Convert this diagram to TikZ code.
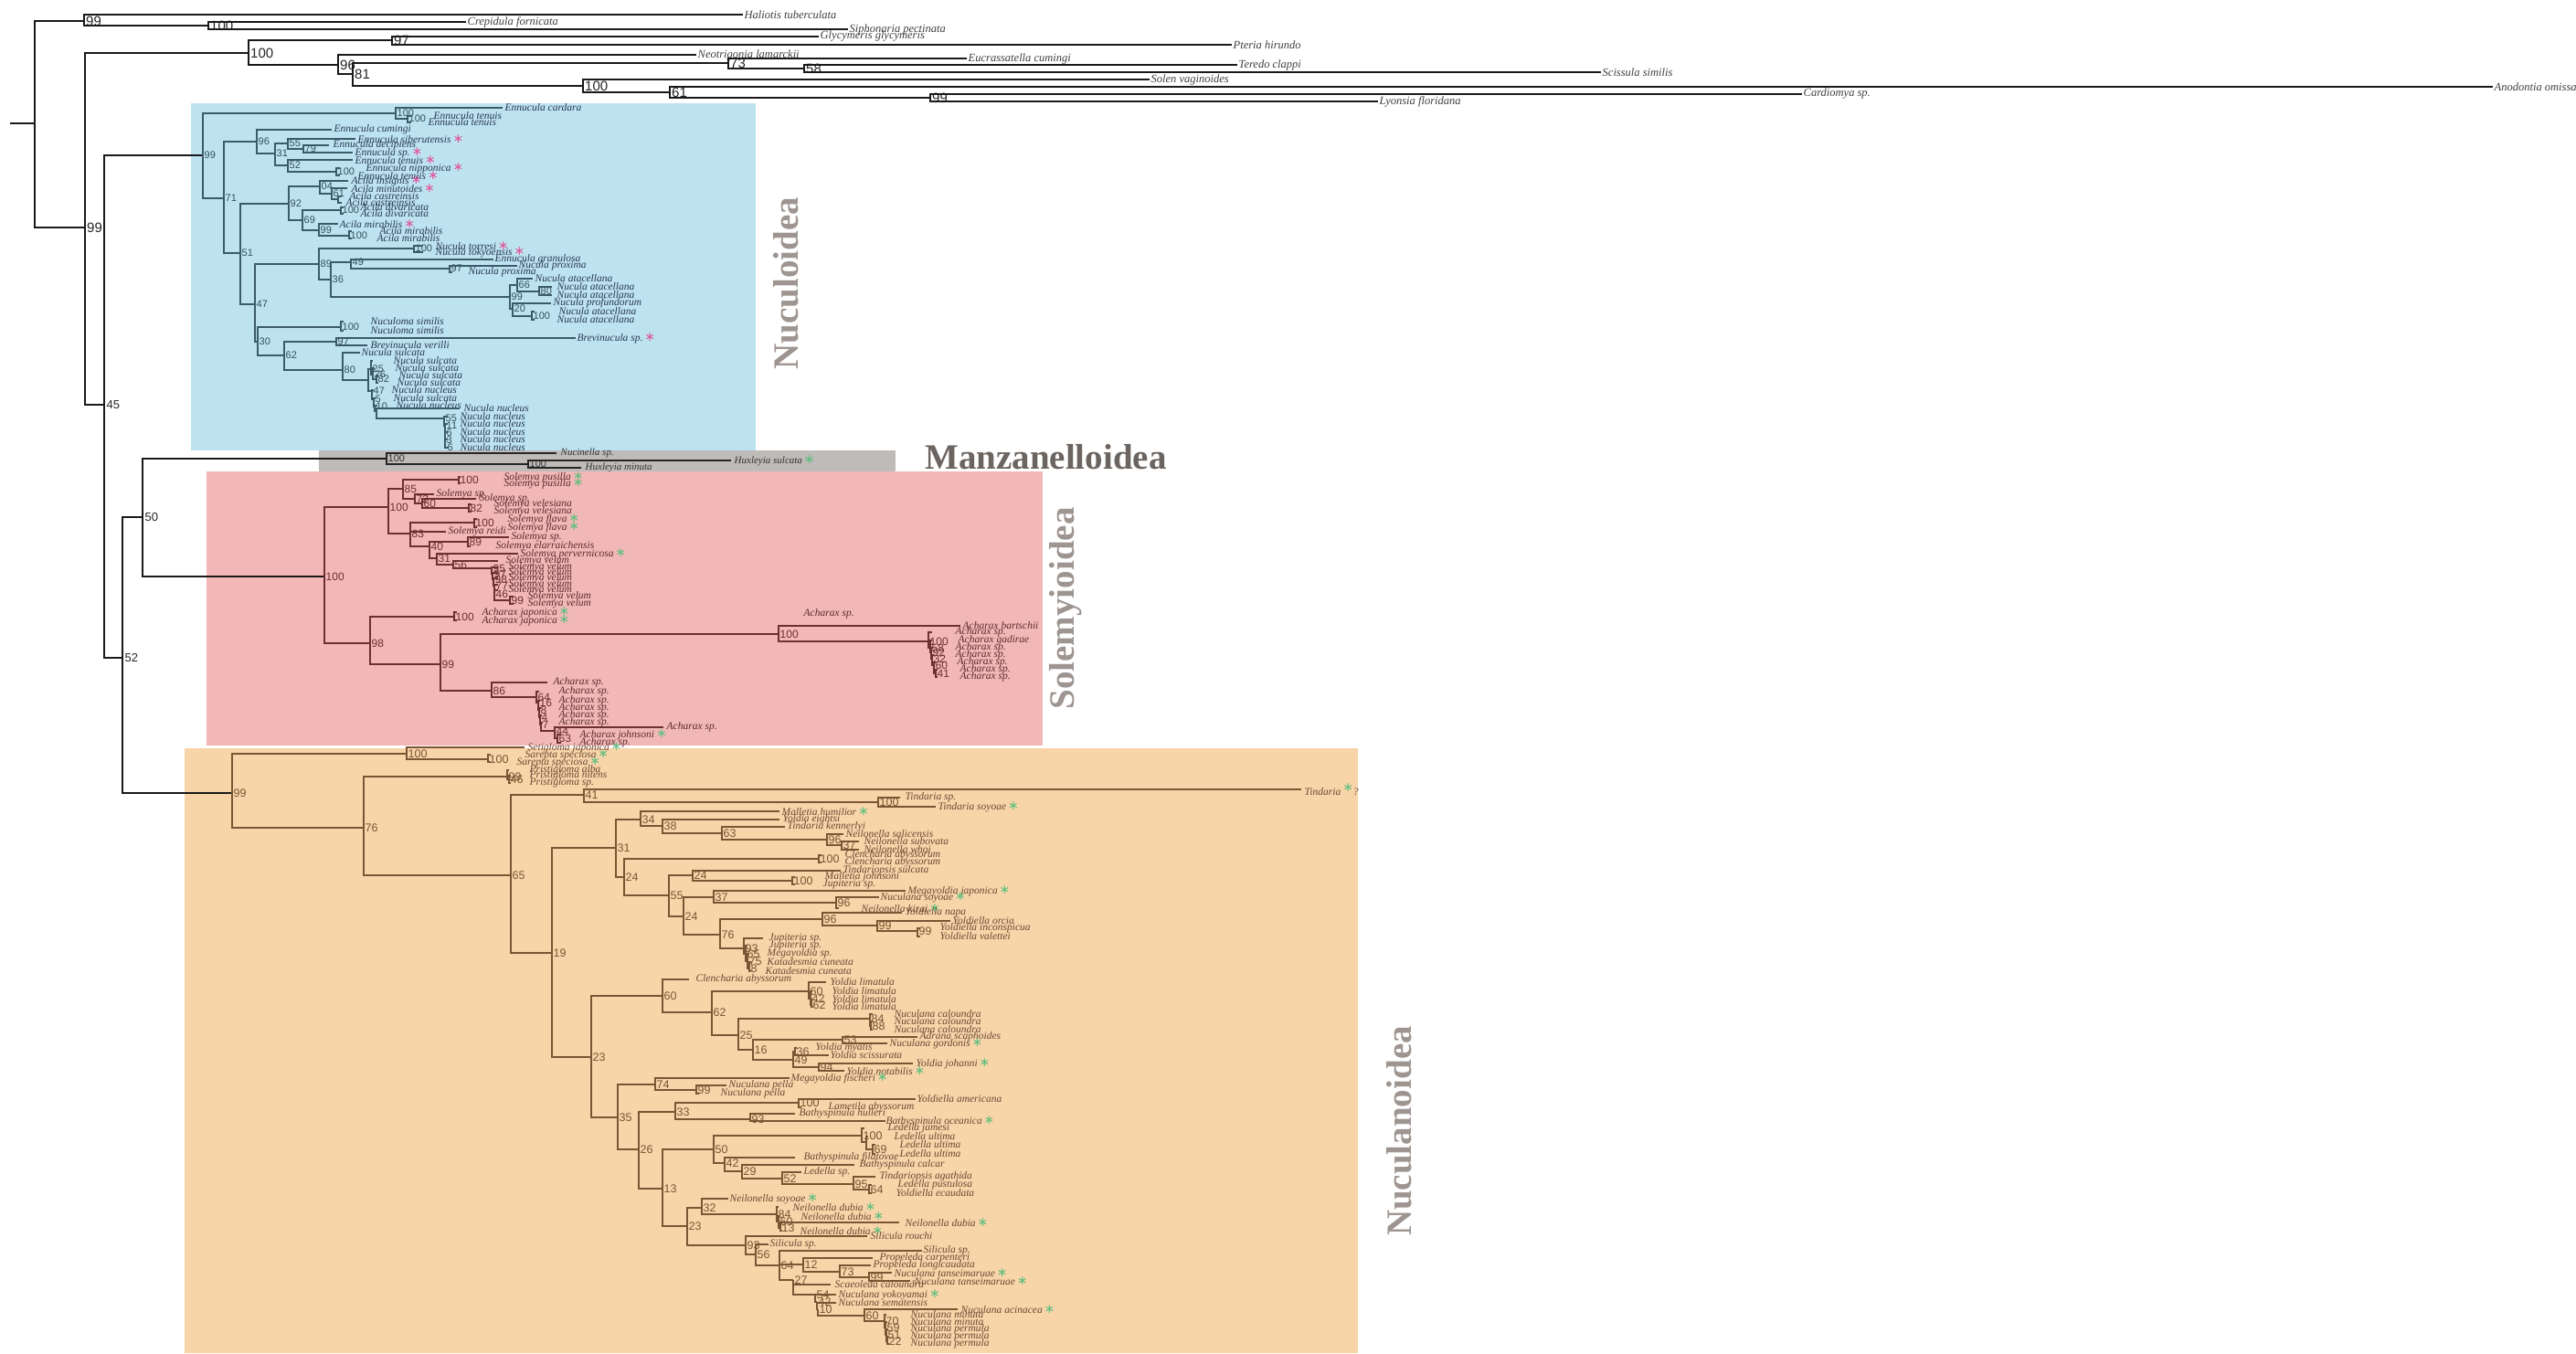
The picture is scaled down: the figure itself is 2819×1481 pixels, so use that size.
\documentclass[tikz,border=0pt]{standalone}
\usepackage{fontspec}
\setmainfont{Liberation Serif}
\setsansfont{Liberation Sans}
\newfontfamily\dejavu{DejaVu Sans}
\definecolor{blueb}{HTML}{BDE3F1}
\definecolor{grayb}{HTML}{BEBBB9}
\definecolor{pinkb}{HTML}{F2B8B8}
\definecolor{orangeb}{HTML}{F8D4A9}
\definecolor{nucbr}{HTML}{3C5B68}
\definecolor{nucnum}{HTML}{35505C}
\definecolor{nuctx}{HTML}{283850}
\definecolor{solbr}{HTML}{6E2F2F}
\definecolor{soltx}{HTML}{5E2A2A}
\definecolor{ulbr}{HTML}{7B5534}
\definecolor{ultx}{HTML}{6A4A33}
\definecolor{astpink}{HTML}{E0559C}
\definecolor{astgreen}{HTML}{5CBF7E}
\definecolor{grplab}{HTML}{9E9591}
\definecolor{grplabd}{HTML}{6B6460}
\newcommand\astp{\,{\dejavu\upshape\fontsize{14}{14}\selectfont\textcolor{astpink}{∗}}}
\newcommand\astg{\,{\dejavu\upshape\fontsize{14}{14}\selectfont\textcolor{astgreen}{∗}}}
% internal node: name, parent, x, y, support
\newcommand\trn[5]{\coordinate (#1) at (#3,#4); \draw[br] (#2) |- (#1); \node[sup] (#1-s) at (#1) {#5};}
% leaf: name, parent, tip x, y, label x, text
\newcommand\trl[6]{\coordinate (#1) at (#3,#4); \draw[br] (#2) |- (#1); \node[taxon] (#1-t) at (#5,#4) {#6};}
\tikzset{
  br/.style={line width=1.3pt,draw=black},
  sup/.style={anchor=west,inner sep=0.5pt,xshift=1pt,font=\sffamily\fontsize{12}{12}\selectfont},
  taxon/.style={anchor=west,inner sep=0.5pt,font=\itshape\fontsize{11.5}{11.5}\selectfont},
  grp/.style={font=\bfseries\fontsize{39}{39}\selectfont,inner sep=0pt},
}
\begin{document}
\begin{tikzpicture}[x=1pt,y=-1pt]
\useasboundingbox (0,0) rectangle (2819,1481);
\fill[white] (0,0) rectangle (2819,1481);
% clade boxes
\fill[blueb] (209,113) rectangle (827,493);
\fill[grayb] (349,493) rectangle (980,516);
\fill[pinkb] (226,516) rectangle (1141,816);
\fill[orangeb] (202,819) rectangle (1486,1481);
% group labels
\node[grp,text=grplab,rotate=90] (lnuc) at (860,310) {Nuculoidea};
\node[grp,text=grplabd,anchor=west] (lman) at (1012,500) {Manzanelloidea};
\node[grp,text=grplab,rotate=90] (lsol) at (1166,666) {Solemyioidea};
\node[grp,text=grplab,rotate=90] (lnul) at (1531,1238) {Nuculanoidea};

% ---------------- outgroups ----------------
\begin{scope}[br/.style={line width=1.8pt,draw=black!90},
  sup/.style={anchor=west,inner sep=0.5pt,xshift=1.5pt,font=\sffamily\fontsize{15}{15}\selectfont,text=black!85},
  taxon/.style={anchor=west,inner sep=0.5pt,xshift=1pt,font=\itshape\fontsize{12.5}{12.5}\selectfont,text=black!75}]
\coordinate (R0) at (11,135);
\coordinate (R) at (38,135);
\draw[br] (R0) -- (R);
\trn{G}{R}{92}{23}{99}
\trl{hal}{G}{813}{16}{813}{Haliotis tuberculata}
\trn{C}{G}{228}{28}{100}
\trl{cre}{C}{510}{24}{510}{Crepidula fornicata}
\trl{sip}{C}{928}{32}{928}{Siphonaria pectinata}
\trn{B}{R}{93}{249}{99}
\trn{H}{B}{272}{58}{100}
\trn{o97}{H}{429}{44}{97}
\trl{gly}{o97}{896}{40}{896}{Glycymeris glycymeris}
\trl{pte}{o97}{1348}{49}{1348}{Pteria hirundo}
\trn{o96}{H}{370}{71}{96}
\trl{neo}{o96}{762}{60}{762}{Neotrigonia lamarckii}
\trn{o81}{o96}{386}{81}{81}
\trn{o73}{o81}{797}{69}{73}
\trl{euc}{o73}{1058}{64}{1058}{Eucrassatella cumingi}
\trn{o58}{o73}{880}{75}{58}
\trl{ter}{o58}{1354}{71}{1354}{Teredo clappi}
\trl{sci}{o58}{1752}{79}{1752}{Scissula similis}
\trn{o100}{o81}{638}{94}{100}
\trl{sol}{o100}{1258}{87}{1258}{Solen vaginoides}
\trn{o61}{o100}{733}{101}{61}
\trl{ano}{o61}{2728}{95}{2728}{Anodontia omissa}
\trn{o99}{o61}{1018}{107}{99}
\trl{car}{o99}{1972}{103}{1972}{Cardiomya sp.}
\trl{lyo}{o99}{1508}{111}{1508}{Lyonsia floridana}
\end{scope}

% ---------------- backbone ----------------
\begin{scope}[br/.style={line width=1.6pt,draw=black!90},
  sup/.style={anchor=west,inner sep=0.5pt,xshift=2pt,font=\sffamily\fontsize{13}{13}\selectfont,text=black!85}]
\trn{n45}{B}{114}{443}{45}
\trn{n52}{n45}{134}{720}{52}
\trn{n50}{n52}{156}{566}{50}
\trn{N0}{n45}{222}{170}{}
\trn{M}{n50}{423}{502}{}
\trn{S0}{n50}{355}{631}{}
\trn{U0}{n52}{254}{868}{}
\end{scope}

% ---------------- Nuculoidea ----------------
\begin{scope}[br/.style={line width=1.3pt,draw=nucbr},
  sup/.style={anchor=west,inner sep=0.5pt,xshift=1pt,font=\sffamily\fontsize{11}{11}\selectfont,text=nucnum},
  taxon/.style={anchor=west,inner sep=0.5pt,font=\itshape\fontsize{11.5}{11.5}\selectfont,text=nuctx}]
\node[sup] (N0-l) at (N0) {99};
\trn{T100}{N0}{433}{124}{100}
\trl{ecar}{T100}{550}{118}{552}{Ennucula cardara}
\trn{T100b}{T100}{446}{130}{100}
\trl{eten1}{T100b}{450}{127}{474}{Ennucula tenuis}
\trl{eten2}{T100b}{450}{134}{468}{Ennucula tenuis}
\trn{n71}{N0}{245}{217}{71}
\trn{n96}{n71}{281}{155}{96}
\trl{ecum}{n96}{363}{142}{365}{Ennucula cumingi}
\trn{n31}{n96}{301}{168}{31}
\trn{n55}{n31}{315}{157}{55}
\trl{esib}{n55}{389}{152}{391}{Ennucula siberutensis\astp}
\trn{n79}{n55}{332}{163}{79}
\trl{edec}{n79}{360}{159}{364}{Ennucula decipiens}
\trl{esp}{n79}{386}{167}{388}{Ennucula sp.\astp}
\trn{n52b}{n31}{315}{181}{52}
\trl{eten3}{n52b}{386}{175}{388}{Ennucula tenuis\astp}
\trn{n100n}{n52b}{368}{188}{100}
\trl{enip}{n100n}{372}{184}{400}{Ennucula nipponica\astp}
\trl{eten4}{n100n}{372}{192}{391}{Ennucula tenuis\astp}
\trn{n51}{n71}{263}{277}{51}
\trn{n92}{n51}{316}{223}{92}
\trn{n04}{n92}{350}{204}{04}
\trl{ains}{n04}{381}{198}{384}{Acila insignis\astp}
\trn{n61n}{n04}{363}{212}{61}
\trl{amin}{n61n}{380}{206}{384}{Acila minutoides\astp}
\trn{ncas}{n61n}{370}{218}{}
\trl{acas1}{ncas}{374}{215}{382}{Acila castreinsis}
\trl{acas2}{ncas}{374}{222}{378}{Acila castreinsis}
\trn{n69}{n92}{331}{241}{69}
\trn{ndiv}{n69}{373}{230}{100}
\trl{adiv1}{ndiv}{376}{227}{394}{Acila divaricata}
\trl{adiv2}{ndiv}{376}{234}{394}{Acila divaricata}
\trn{n99n}{n69}{349}{252}{99}
\trl{amir1}{n99n}{370}{245}{371}{Acila mirabilis\astp}
\trn{nmir}{n99n}{382}{258}{100}
\trl{amir2}{nmir}{385}{253}{415}{Acila mirabilis}
\trl{amir3}{nmir}{385}{261}{412}{Acila mirabilis}
\trn{n47}{n51}{279}{333}{47}
\trn{n89}{n47}{349}{289}{89}
\trn{ntor}{n89}{453}{272}{100}
\trl{ntor1}{ntor}{463}{269}{476}{Nucula torresi\astp}
\trl{ntok}{ntor}{463}{276}{476}{Nucula tokyoensis\astp}
\trn{n36}{n89}{362}{306}{36}
\trn{n49}{n36}{384}{287}{49}
\trl{egra}{n49}{540}{284}{541}{Ennucula granulosa}
\trn{n97n}{n49}{492}{294}{97}
\trl{nprox1}{n97n}{566}{291}{567}{Nucula proxima}
\trl{nprox2}{n97n}{495}{298}{512}{Nucula proxima}
\trn{n99a}{n36}{558}{325}{99}
\trn{n66}{n99a}{566}{312}{66}
\trl{nata1}{n66}{583}{305}{585}{Nucula atacellana}
\trn{n80n}{n66}{590}{319}{80}
\trl{nata2}{n80n}{604}{314}{609}{Nucula atacellana}
\trl{nata3}{n80n}{604}{323}{609}{Nucula atacellana}
\trn{n20}{n99a}{561}{338}{20}
\trl{npro}{n20}{603}{332}{605}{Nucula profundorum}
\trn{n100a}{n20}{582}{346}{100}
\trl{nata4}{n100a}{585}{341}{611}{Nucula atacellana}
\trl{nata5}{n100a}{585}{350}{609}{Nucula atacellana}
\trn{n30}{n47}{282}{374}{30}
\trn{nns}{n30}{373}{358}{100}
\trl{nsim1}{nns}{376}{352}{405}{Nuculoma similis}
\trl{nsim2}{nns}{376}{362}{405}{Nuculoma similis}
\trn{n62n}{n30}{311}{389}{62}
\trn{nbrev}{n62n}{368}{374}{97}
\trl{brsp}{nbrev}{630}{370}{631}{Brevinucula sp.\astp}
\trl{brve}{nbrev}{402}{378}{405}{Brevinucula verilli}
\trn{n80b}{n62n}{375}{405}{80}
\trl{nsul0}{n80b}{394}{386}{395}{Nucula sulcata}
\trn{nS}{n80b}{403}{416}{}
\trn{cA}{nS}{406}{404}{25}
\trl{nsul1}{cA}{408}{395}{430}{Nucula sulcata}
\trn{cA2}{cA}{408}{410}{26}
\trl{nsul2}{cA2}{410}{403}{432}{Nucula sulcata}
\trn{cA3}{cA2}{412}{415}{82}
\trl{nsul3}{cA3}{414}{411}{436}{Nucula sulcata}
\trl{nsul4}{cA3}{414}{419}{434}{Nucula sulcata}
\trn{cB}{nS}{407}{428}{47}
\trl{nnuc1}{cB}{409}{427}{428}{Nucula nucleus}
\trn{cB2}{cB}{409}{437}{5}
\trl{nsul5}{cB2}{411}{436}{430}{Nucula sulcata}
\trn{cB3}{cB2}{410}{445}{10}
\trl{nnuc2}{cB3}{413}{444}{433}{Nucula nucleus}
\trn{cC}{cB3}{412}{450}{}
\trl{nnuc3}{cC}{503}{447}{507}{Nucula nucleus}
\trn{D}{cC}{486}{458}{55}
\trl{nnuc4}{D}{490}{456}{503}{Nucula nucleus}
\trn{D2}{D}{487}{466}{11}
\trl{nnuc5}{D2}{490}{464}{503}{Nucula nucleus}
\trn{D3}{D2}{487}{474}{6}
\trl{nnuc6}{D3}{490}{473}{503}{Nucula nucleus}
\trn{D4}{D3}{487}{482}{3}
\trl{nnuc7}{D4}{490}{481}{503}{Nucula nucleus}
\trn{D5}{D4}{488}{490}{6}
\trl{nnuc8}{D5}{490}{490}{503}{Nucula nucleus}
\end{scope}

% ---------------- Manzanelloidea ----------------
\begin{scope}[br/.style={line width=1.3pt,draw=black!85},
  sup/.style={anchor=west,inner sep=0.5pt,xshift=1pt,font=\sffamily\fontsize{11}{11}\selectfont,text=black!80},
  taxon/.style={anchor=west,inner sep=0.5pt,font=\itshape\fontsize{11}{11}\selectfont,text=black!80}]
\node[sup] (M-l) at (M) {100};
\trl{nuci}{M}{609}{496}{613}{Nucinella sp.}
\trn{hux}{M}{578}{508}{100}
\trl{huxs}{hux}{800}{504}{803}{Huxleyia sulcata\astg}
\trl{huxm}{hux}{636}{512}{640}{Huxleyia minuta}
\end{scope}

% ---------------- Solemyoidea ----------------
\begin{scope}[br/.style={line width=1.3pt,draw=solbr},
  sup/.style={anchor=west,inner sep=0.5pt,xshift=1pt,font=\sffamily\fontsize{12}{12}\selectfont,text=solbr},
  taxon/.style={anchor=west,inner sep=0.5pt,font=\itshape\fontsize{11.5}{11.5}\selectfont,text=soltx}]
\node[sup] (S0-l) at (S0) {100};
\trn{s100}{S0}{425}{555}{100}
\trn{s85}{s100}{441}{535}{85}
\trn{sP}{s85}{502}{525}{100}
\trl{spus1}{sP}{504}{522}{551}{Solemya pusilla\astg}
\trl{spus2}{sP}{504}{529}{551}{Solemya pusilla\astg}
\trn{s72}{s85}{454}{546}{72}
\trl{ssp1}{s72}{475}{541}{477}{Solemya sp.}
\trn{s60}{s72}{462}{551}{60}
\trl{ssp2}{s60}{521}{546}{524}{Solemya sp.}
\trn{s82}{s60}{513}{556}{82}
\trl{svel1}{s82}{516}{552}{540}{Solemya velesiana}
\trl{svel2}{s82}{516}{560}{540}{Solemya velesiana}
\trn{s83}{s100}{449}{584}{83}
\trn{sF}{s83}{519}{572}{100}
\trl{sfla1}{sF}{522}{568}{555}{Solemya flava\astg}
\trl{sfla2}{sF}{522}{577}{555}{Solemya flava\astg}
\trl{srei}{s83}{488}{582}{490}{Solemya reidi}
\trn{s40}{s83}{470}{598}{40}
\trn{s89}{s40}{512}{593}{89}
\trl{ssp3}{s89}{557}{588}{559}{Solemya sp.}
\trl{sela}{s89}{515}{598}{542}{Solemya elarraichensis}
\trn{s31}{s40}{478}{611}{31}
\trl{sper}{s31}{567}{606}{569}{Solemya pervernicosa\astg}
\trn{s56}{s31}{496}{618}{56}
\trl{svl1}{s56}{545}{614}{553}{Solemya velum}
\trn{s95}{s56}{538}{622}{95}
\trl{svl2}{s95}{545}{621}{556}{Solemya velum}
\trn{s97}{s95}{539}{628}{97}
\trl{svl3}{s97}{545}{627}{556}{Solemya velum}
\trn{s98}{s97}{540}{634}{98}
\trl{svl4}{s98}{545}{633}{556}{Solemya velum}
\trn{s77}{s98}{541}{641}{77}
\trl{svl5}{s77}{545}{640}{556}{Solemya velum}
\trn{s46}{s77}{541}{650}{46}
\trl{svl6}{s46}{545}{646}{556}{Solemya velum}
\trn{s99}{s46}{558}{657}{99}
\trl{svl7}{s99}{562}{653}{577}{Solemya velum}
\trl{svl8}{s99}{562}{661}{577}{Solemya velum}
\trn{s98n}{S0}{405}{704}{98}
\trn{sJ}{s98n}{497}{675}{100}
\trl{ajap1}{sJ}{500}{670}{527}{Acharax japonica\astg}
\trl{ajap2}{sJ}{500}{679}{527}{Acharax japonica\astg}
\trn{s99b}{s98n}{482}{727}{99}
\trn{a100}{s99b}{852}{694}{100}
\trl{abar}{a100}{1051}{685}{1053}{Acharax bartschii}
\trn{ac1}{a100}{1016}{702}{100}
\trl{asp1}{ac1}{1020}{692}{1045}{Acharax sp.}
\trn{ac2}{ac1}{1018}{709}{58}
\trl{agad}{ac2}{1020}{701}{1048}{Acharax gadirae}
\trn{ac3}{ac2}{1019}{714}{92}
\trl{asp2}{ac3}{1021}{709}{1045}{Acharax sp.}
\trn{ac4}{ac3}{1020}{721}{32}
\trl{asp3}{ac4}{1022}{717}{1045}{Acharax sp.}
\trn{ac5}{ac4}{1022}{728}{60}
\trl{asp4}{ac5}{1024}{725}{1047}{Acharax sp.}
\trn{ac6}{ac5}{1024}{737}{41}
\trl{asp5}{ac6}{1026}{733}{1050}{Acharax sp.}
\trl{asp6}{ac6}{1026}{741}{1050}{Acharax sp.}
\node[taxon] (afloat) at (879,672) {Acharax sp.};
\trn{a86}{s99b}{538}{756}{86}
\trl{asp7}{a86}{599}{747}{605}{Acharax sp.}
\trn{a64}{a86}{587}{763}{64}
\trl{asp8}{a64}{590}{757}{611}{Acharax sp.}
\trn{a16}{a64}{589}{769}{16}
\trl{asp9}{a16}{591}{767}{611}{Acharax sp.}
\trn{a8}{a16}{590}{777}{8}
\trl{asp10}{a8}{592}{775}{611}{Acharax sp.}
\trn{a4}{a8}{591}{785}{4}
\trl{asp11}{a4}{593}{783}{611}{Acharax sp.}
\trn{a7}{a4}{592}{793}{7}
\trl{asp12}{a7}{594}{791}{611}{Acharax sp.}
\trn{a44}{a7}{607}{800}{44}
\trl{asp13}{a44}{726}{796}{729}{Acharax sp.}
\trn{a63}{a44}{610}{808}{63}
\trl{ajoh}{a63}{614}{804}{634}{Acharax johnsoni\astg}
\trl{asp14}{a63}{614}{813}{634}{Acharax sp.}
\end{scope}

% ---------------- Nuculanoidea ----------------
\begin{scope}[br/.style={line width=1.3pt,draw=ulbr},
  sup/.style={anchor=west,inner sep=0.5pt,xshift=1pt,font=\sffamily\fontsize{12.5}{12.5}\selectfont,text=ulbr},
  taxon/.style={anchor=west,inner sep=0.5pt,font=\itshape\fontsize{11.5}{11.5}\selectfont,text=ultx}]
\node[sup] (U0-l) at (U0) {99};
\trn{uSet}{U0}{445}{825}{100}
\trl{setj}{uSet}{574}{818}{577}{Setigloma japonica\astg}
\trn{uSar}{uSet}{534}{831}{100}
\trl{sar1}{uSar}{537}{826}{574}{Sarepta speciosa\astg}
\trl{sar2}{uSar}{537}{834}{565}{Sarepta speciosa\astg}
\trn{u76}{U0}{398}{906}{76}
\trn{uPr}{u76}{555}{850}{99}
\trl{pral}{uPr}{557}{843}{579}{Pristigloma alba}
\trn{uP2}{uPr}{557}{853}{46}
\trl{prni}{uP2}{559}{849}{579}{Pristigloma nitens}
\trl{prsp}{uP2}{559}{857}{579}{Pristigloma sp.}
\trn{u65}{u76}{559}{958}{65}
\trn{u41}{u65}{639}{870}{41}
\trl{tind}{u41}{1424}{864}{1427}{Tindaria\raisebox{4pt}{\astg}?}
\trn{uTi}{u41}{961}{878}{100}
\trl{tisp}{uTi}{985}{873}{990}{Tindaria sp.}
\trl{tisoy}{uTi}{1024}{883}{1026}{Tindaria soyoae\astg}
\trn{u19}{u65}{604}{1043}{19}
\trn{u31}{u19}{674}{928}{31}
\trn{u34}{u31}{701}{897}{34}
\trl{mhum}{u34}{853}{888}{855}{Malletia humilior\astg}
\trn{u38}{u34}{725}{904}{38}
\trl{yeig}{u38}{853}{897}{856}{Yoldia eightsi}
\trn{u63}{u38}{790}{912}{63}
\trl{tken}{u63}{859}{905}{861}{Tindaria kennerlyi}
\trn{u96a}{u63}{905}{919}{96}
\trl{nsal}{u96a}{923}{913}{925}{Neilonella salicensis}
\trn{u37}{u96a}{921}{925}{37}
\trl{nsub}{u37}{940}{921}{945}{Neilonella subovata}
\trl{nwho}{u37}{940}{930}{945}{Neilonella whoi}
\trn{u24a}{u31}{683}{960}{24}
\trn{uCl}{u24a}{896}{940}{100}
\trl{cla1}{uCl}{899}{936}{924}{Clencharia abyssorum}
\trl{cla2}{uCl}{899}{944}{924}{Clencharia abyssorum}
\trn{u55}{u24a}{732}{980}{55}
\trn{u24b}{u55}{758}{958}{24}
\trl{tsul}{u24b}{920}{953}{922}{Tindariopsis sulcata}
\trn{uMj}{u24b}{867}{964}{100}
\trl{mjoh}{uMj}{870}{960}{902}{Malletia johnsoni}
\trl{jusp1}{uMj}{870}{968}{900}{Jupiteria sp.}
\trn{u24c}{u55}{748}{1003}{24}
\trn{u37b}{u24c}{781}{982}{37}
\trl{mjap}{u37b}{991}{975}{993}{Megayoldia japonica\astg}
\trn{u96b}{u37b}{915}{988}{96}
\trl{nsoy}{u96b}{962}{982}{963}{Nuculana soyoae\astg}
\trl{nkir}{u96b}{918}{994}{942}{Neilonella kirai\astg}
\trn{u76b}{u24c}{788}{1023}{76}
\trn{u96c}{u76b}{900}{1006}{96}
\trl{ynap}{u96c}{987}{999}{990}{Yoldiella napa}
\trn{u99c}{u96c}{960}{1013}{99}
\trl{yorc}{u99c}{1040}{1008}{1042}{Yoldiella orcia}
\trn{u99d}{u99c}{1004}{1019}{99}
\trl{yinc}{u99d}{1007}{1016}{1028}{Yoldiella inconspicua}
\trl{yval}{u99d}{1007}{1025}{1028}{Yoldiella valettei}
\trn{uJ1}{u76b}{814}{1038}{93}
\trl{jusp2}{uJ1}{835}{1027}{841}{Jupiteria sp.}
\trn{uJ2}{uJ1}{816}{1044}{65}
\trl{jusp3}{uJ2}{818}{1035}{841}{Jupiteria sp.}
\trn{uJ3}{uJ2}{818}{1052}{75}
\trl{mysp}{uJ3}{820}{1044}{839}{Megayoldia sp.}
\trn{uJ4}{uJ3}{820}{1060}{8}
\trl{kat1}{uJ4}{822}{1053}{839}{Katadesmia cuneata}
\trl{kat2}{uJ4}{822}{1063}{837}{Katadesmia cuneata}
\trn{u23}{u19}{647}{1157}{23}
\trn{u60}{u23}{725}{1090}{60}
\trl{cla3}{u60}{754}{1072}{761}{Clencharia abyssorum}
\trn{u62}{u60}{779}{1108}{62}
\trn{uY1}{u62}{885}{1085}{60}
\trl{ylim1}{uY1}{904}{1075}{908}{Yoldia limatula}
\trn{uY2}{uY1}{887}{1093}{42}
\trl{ylim2}{uY2}{889}{1085}{910}{Yoldia limatula}
\trn{uY3}{uY2}{888}{1100}{62}
\trl{ylim3}{uY3}{890}{1094}{910}{Yoldia limatula}
\trl{ylim4}{uY3}{890}{1102}{910}{Yoldia limatula}
\trn{u25}{u62}{808}{1133}{25}
\trn{uC1}{u25}{952}{1115}{84}
\trl{ncal1}{uC1}{955}{1110}{978}{Nuculana caloundra}
\trn{uC2}{uC1}{953}{1123}{88}
\trl{ncal2}{uC2}{955}{1118}{978}{Nuculana caloundra}
\trl{ncal3}{uC2}{955}{1127}{978}{Nuculana caloundra}
\trn{u16}{u25}{824}{1149}{16}
\trn{u53}{u16}{922}{1138}{53}
\trl{adsc}{u53}{1004}{1135}{1006}{Adrana scaphoides}
\trl{ngor}{u53}{971}{1142}{973}{Nuculana gordonis\astg}
\trn{u49}{u16}{868}{1160}{49}
\trn{u36}{u49}{870}{1151}{36}
\trl{ymya}{u36}{872}{1147}{892}{Yoldia myalis}
\trl{ysci}{u36}{907}{1155}{908}{Yoldia scissurata}
\trn{u94}{u49}{896}{1168}{94}
\trl{yjoh}{u94}{999}{1164}{1002}{Yoldia johanni\astg}
\trl{ynot}{u94}{924}{1172}{926}{Yoldia notabilis\astg}
\trn{u35}{u23}{676}{1223}{35}
\trn{u74}{u35}{717}{1187}{74}
\trl{mfis}{u74}{864}{1180}{865}{Megayoldia fischeri\astg}
\trn{u99e}{u74}{762}{1193}{99}
\trl{npel1}{u99e}{795}{1188}{797}{Nuculana pella}
\trl{npel2}{u99e}{765}{1197}{788}{Nuculana pella}
\trn{u26}{u35}{699}{1258}{26}
\trn{u33}{u26}{739}{1217}{33}
\trn{uLa}{u33}{874}{1207}{100}
\trl{yame}{uLa}{1002}{1203}{1003}{Yoldiella americana}
\trl{labys}{uLa}{877}{1212}{906}{Lametila abyssorum}
\trn{u93}{u33}{821}{1225}{93}
\trl{bhul}{u93}{870}{1219}{874}{Bathyspinula hulleri}
\trl{boce}{u93}{969}{1227}{969}{Bathyspinula oceanica\astg}
\trn{u13}{u26}{725}{1301}{13}
\trn{u50}{u13}{781}{1258}{50}
\trn{uL1}{u50}{943}{1243}{100}
\trl{ljam}{uL1}{946}{1235}{971}{Ledella jamesi}
\trn{uL2}{uL1}{948}{1250}{}
\trl{lult1}{uL2}{950}{1244}{978}{Ledella ultima}
\trn{uL3}{uL2}{955}{1258}{69}
\trl{lult2}{uL3}{958}{1253}{984}{Ledella ultima}
\trl{lult3}{uL3}{958}{1263}{984}{Ledella ultima}
\trn{u42}{u50}{793}{1273}{42}
\trl{bfil}{u42}{870}{1267}{879}{Bathyspinula filatovae}
\trn{u29}{u42}{812}{1282}{29}
\trl{bcal}{u29}{935}{1275}{940}{Bathyspinula calcar}
\trn{u52}{u29}{856}{1290}{52}
\trl{lsp}{u52}{877}{1283}{879}{Ledella sp.}
\trn{u95}{u52}{934}{1296}{95}
\trl{taga}{u95}{958}{1288}{962}{Tindariopsis agathida}
\trn{u64b}{u95}{951}{1302}{64}
\trl{lpus}{u64b}{954}{1297}{982}{Ledella pustulosa}
\trl{yeca}{u64b}{954}{1306}{980}{Yoldiella ecaudata}
\trn{u23b}{u13}{752}{1342}{23}
\trn{u32}{u23b}{768}{1322}{32}
\trl{nsoy2}{u32}{797}{1312}{798}{Neilonella soyoae\astg}
\trn{uD1}{u32}{850}{1329}{84}
\trl{dub1}{uD1}{852}{1321}{867}{Neilonella dubia\astg}
\trn{uD2}{uD1}{852}{1337}{60}
\trl{dub2}{uD2}{854}{1331}{876}{Neilonella dubia\astg}
\trn{uD3}{uD2}{854}{1344}{13}
\trl{dub3}{uD3}{984}{1338}{990}{Neilonella dubia\astg}
\trl{dub4}{uD3}{856}{1347}{875}{Neilonella dubia\astg}
\trn{u93b}{u23b}{816}{1363}{93}
\trl{srou}{u93b}{949}{1353}{952}{Silicula rouchi}
\trn{u56}{u93b}{827}{1373}{56}
\trl{sisp1}{u56}{841}{1362}{842}{Silicula sp.}
\trn{u64c}{u56}{853}{1385}{64}
\trl{sisp2}{u64c}{1009}{1369}{1010}{Silicula sp.}
\trn{u12}{u64c}{879}{1384}{12}
\trl{pcar}{u12}{955}{1377}{962}{Propeleda carpenteri}
\trn{u73}{u12}{919}{1392}{73}
\trl{plon}{u73}{953}{1385}{955}{Propeleda longicaudata}
\trn{u99f}{u73}{951}{1398}{99}
\trl{ntan1}{u99f}{976}{1393}{978}{Nuculana tanseimaruae\astg}
\trl{ntan2}{u99f}{996}{1402}{1000}{Nuculana tanseimaruae\astg}
\trn{u27}{u64c}{868}{1401}{27}
\trl{scal}{u27}{909}{1406}{913}{Scaeoleda caloundra}
\trn{u54}{u27}{892}{1417}{54}
\trl{nyok}{u54}{915}{1417}{917}{Nuculana yokoyamai\astg}
\trn{u42v}{u54}{894}{1425}{42}
\trl{nsem}{u42v}{915}{1426}{917}{Nuculana sematensis}
\trn{u10}{u42v}{895}{1433}{10}
\trn{u60v}{u10}{946}{1440}{60}
\trl{naci}{u60v}{1048}{1433}{1051}{Nuculana acinacea\astg}
\trn{u70}{u60v}{968}{1446}{70}
\trl{nmin1}{u70}{970}{1439}{996}{Nuculana minuta}
\trn{u59}{u70}{969}{1453}{59}
\trl{nmin2}{u59}{971}{1447}{996}{Nuculana minuta}
\trn{u51}{u59}{970}{1461}{51}
\trl{nper1}{u51}{972}{1455}{996}{Nuculana permula}
\trn{u22}{u51}{971}{1468}{22}
\trl{nper2}{u22}{973}{1463}{996}{Nuculana permula}
\trl{nper3}{u22}{973}{1471}{996}{Nuculana permula}
\end{scope}
\end{tikzpicture}
\end{document}
